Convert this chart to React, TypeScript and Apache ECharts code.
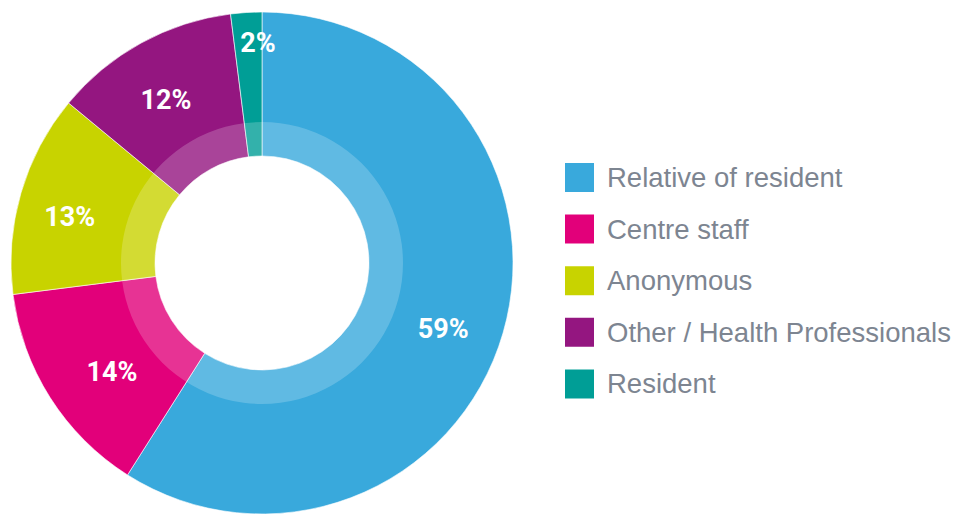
import React, { useEffect, useRef } from "react";
import * as echarts from "echarts";

const categories = ["Relative of resident", "Centre staff", "Anonymous", "Other / Health Professionals", "Resident"];
const values = [59, 14, 13, 12, 2];
const colors = ["#39a9dc", "#e2007a", "#c8d300", "#941680", "#009e96"];
const labelOffsets = [[-4, 12], [13, 6], [-7, 8], [-3, 6], [8, -27]];

export default function App() {
  const ref = useRef<HTMLDivElement>(null);
  useEffect(() => {
    const chart = echarts.init(ref.current!, null, { renderer: "svg" });
    chart.setOption({
      animation: false,
      legend: {
        orient: "vertical",
        left: 563,
        top: 161,
        padding: 0,
        icon: "rect",
        itemWidth: 31,
        itemHeight: 31,
        itemGap: 18.6,
        selectedMode: false,
        data: categories,
        textStyle: {
          fontFamily: "'Liberation Sans', Arial, sans-serif",
          fontSize: 27.5,
          lineHeight: 31,
          color: "#7d8591",
          padding: [0, 0, 0, 7],
        },
      },
      series: [
        {
          type: "pie",
          center: [262, 263],
          radius: [107, 251],
          startAngle: 90,
          clockwise: true,
          silent: true,
          label: { show: false },
          labelLine: { show: false },
          itemStyle: { borderWidth: 0.6, borderColor: "#ffffff" },
          data: categories.map((name, i) => ({ name, value: values[i], itemStyle: { color: colors[i] } })),
        },
        {
          type: "pie",
          center: [262, 263],
          radius: [107, 141],
          silent: true,
          label: { show: false },
          labelLine: { show: false },
          data: [{ value: 1, name: "overlay", itemStyle: { color: "rgba(255,255,255,0.2)" } }],
        },
        {
          type: "pie",
          center: [262, 263],
          radius: [129, 251],
          startAngle: 90,
          clockwise: true,
          silent: true,
          itemStyle: { color: "rgba(0,0,0,0)" },
          labelLine: { show: false },
          label: {
            show: true,
            position: "inside",
            formatter: "{c}%",
            color: "#ffffff",
            fontFamily: "Roboto, sans-serif",
            fontWeight: "bold",
            fontSize: 27,
          },
          data: categories.map((name, i) => ({ name, value: values[i], label: { offset: labelOffsets[i] } })),
        },
      ],
    });
    return () => chart.dispose();
  }, []);
  return <div ref={ref} style={{ width: 958, height: 515, position: "absolute", left: 0, top: 0 }} />;
}
